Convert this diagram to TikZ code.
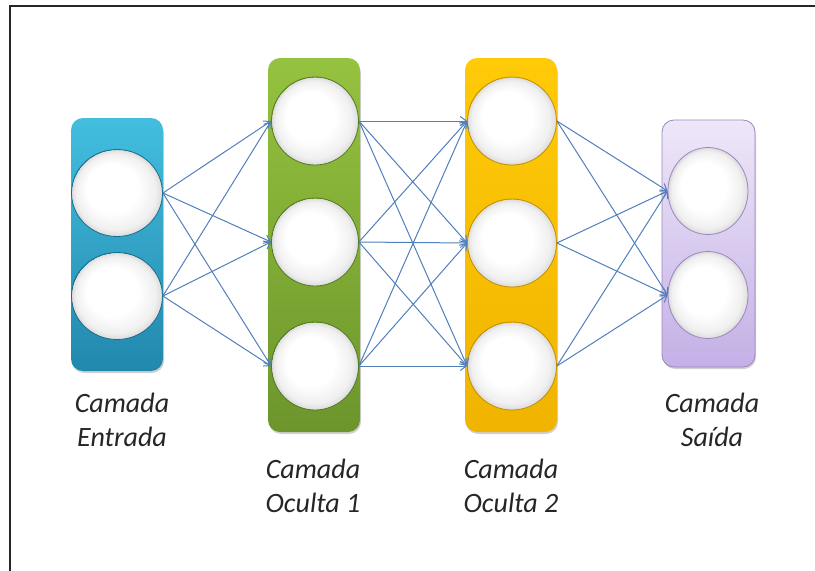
\documentclass[tikz,border=0pt]{standalone}
\usepackage{fontspec}
\setmainfont{Carlito}
\usetikzlibrary{arrows.meta,shapes.geometric}
\definecolor{azulA}{HTML}{43BEDF}
\definecolor{azulB}{HTML}{2288AD}
\definecolor{verdeA}{HTML}{95C23F}
\definecolor{verdeB}{HTML}{6C962C}
\definecolor{amareloA}{HTML}{FFCA08}
\definecolor{amareloB}{HTML}{F0B400}
\definecolor{roxoA}{HTML}{EEE7F8}
\definecolor{roxoB}{HTML}{C4B0E6}
\definecolor{roxoC}{HTML}{9A87BE}
\definecolor{seta}{HTML}{4F7FBC}
\pgfdeclareradialshading{bolha}{\pgfpoint{-6bp}{6bp}}{color(0bp)=(white); color(14bp)=(white); color(22bp)=(black!6); color(25bp)=(black!14)}
\tikzset{
  camada/.style={rectangle, rounded corners=12pt, minimum width=92pt},
  sombra/.style={fill=black!18, rounded corners=12pt},
  neuronio/.style={ellipse, shading=bolha, line width=0.8pt,
    minimum width=88pt, minimum height=88pt},
  rotulo/.style={align=center, anchor=base, text=black!85,
    font=\fontsize{28}{34}\selectfont\itshape},
  liga/.style={draw=seta, line width=1pt, -{Straight Barb[length=6pt,width=9pt]}}
}
\begin{document}
\begin{tikzpicture}[x=1pt,y=-1pt]
\useasboundingbox (0,0) rectangle (815,571);
\draw[line width=2pt, black!85] (10,571) -- (10,6) -- (815,6);
% sombras
\fill[sombra] (72,121) rectangle (164,373);
\fill[sombra] (269,61) rectangle (361,434);
\fill[sombra] (466,61) rectangle (558,434);
\fill[sombra] (663,123) rectangle (756,369);
% camadas
\node[camada, top color=azulA, bottom color=azulB, minimum height=253pt] (entrada) at (117,244.5) {};
\node[camada, top color=verdeA, bottom color=verdeB, minimum height=374pt] (oculta1) at (314,245) {};
\node[camada, top color=amareloA, bottom color=amareloB, minimum height=374pt] (oculta2) at (511,245) {};
\node[camada, top color=roxoA, bottom color=roxoB, draw=roxoC, line width=0.8pt, minimum width=93pt, minimum height=247pt] (saida) at (708.5,243.5) {};
% neuronios
\node[neuronio, draw=azulB!80!black, minimum width=91pt, minimum height=87pt] (e1) at (117,193) {};
\node[neuronio, draw=azulB!80!black, minimum width=91pt, minimum height=87pt] (e2) at (117,296) {};
\node[neuronio, draw=verdeB!80!black, minimum width=87pt] (a1) at (315,121) {};
\node[neuronio, draw=verdeB!80!black, minimum width=87pt] (a2) at (315,242) {};
\node[neuronio, draw=verdeB!80!black, minimum width=87pt] (a3) at (315,366) {};
\node[neuronio, draw=amareloB!80!black, minimum width=89pt] (b1) at (512,121) {};
\node[neuronio, draw=amareloB!80!black, minimum width=89pt] (b2) at (512,243) {};
\node[neuronio, draw=amareloB!80!black, minimum width=89pt] (b3) at (512,366) {};
\node[neuronio, draw=roxoC, minimum width=80pt, minimum height=87pt] (s1) at (708,191) {};
\node[neuronio, draw=roxoC, minimum width=80pt, minimum height=87pt] (s2) at (708,295) {};
% ligacoes
\draw[liga] (e1.east) -- (a1.west);
\draw[liga] (e1.east) -- (a2.west);
\draw[liga] (e1.east) -- (a3.west);
\draw[liga] (e2.east) -- (a1.west);
\draw[liga] (e2.east) -- (a2.west);
\draw[liga] (e2.east) -- (a3.west);
\draw[liga] (a1.east) -- (b1.west);
\draw[liga] (a1.east) -- (b2.west);
\draw[liga] (a1.east) -- (b3.west);
\draw[liga] (a2.east) -- (b1.west);
\draw[liga] (a2.east) -- (b2.west);
\draw[liga] (a2.east) -- (b3.west);
\draw[liga] (a3.east) -- (b1.west);
\draw[liga] (a3.east) -- (b2.west);
\draw[liga] (a3.east) -- (b3.west);
\draw[liga] (b1.east) -- (s1.west);
\draw[liga] (b1.east) -- (s2.west);
\draw[liga] (b2.east) -- (s1.west);
\draw[liga] (b2.east) -- (s2.west);
\draw[liga] (b3.east) -- (s1.west);
\draw[liga] (b3.east) -- (s2.west);
% rotulos
\node[rotulo] (rentrada) at (122,446) {Camada\\Entrada};
\node[rotulo] (roculta1) at (313,512) {Camada\\Oculta 1};
\node[rotulo] (roculta2) at (511,512) {Camada\\Oculta 2};
\node[rotulo] (rsaida) at (712,446) {Camada\\Saída};
\end{tikzpicture}
\end{document}
